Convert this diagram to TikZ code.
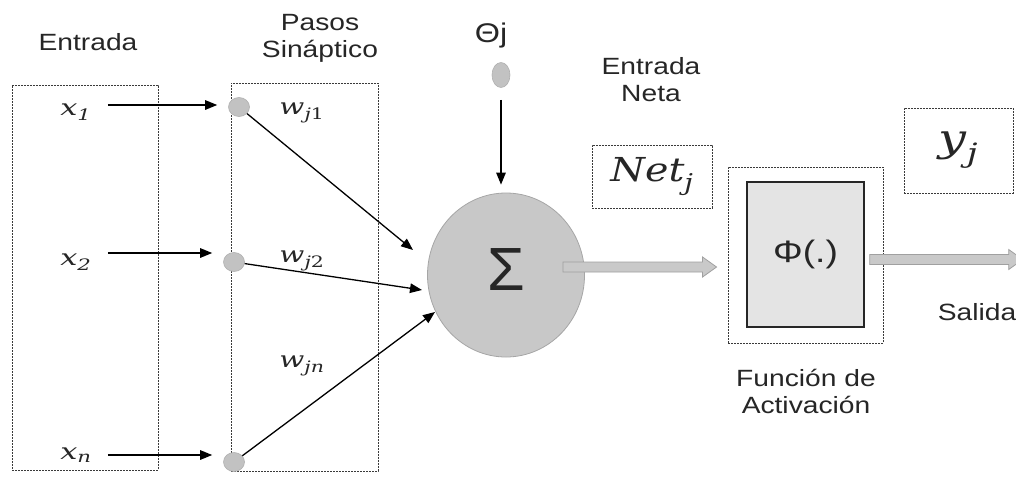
\documentclass[tikz,border=0pt]{standalone}
\usepackage{fontspec}
\newfontfamily\lab[FakeStretch=1.2]{Liberation Sans}
\newfontfamily\plainsans{Liberation Sans}
\newfontfamily\mserif{DejaVu Serif}
\usetikzlibrary{arrows.meta,shapes.geometric,calc}
\definecolor{txt}{HTML}{262626}
\definecolor{boxline}{HTML}{3A3A3A}
\definecolor{dotfill}{HTML}{C2C2C2}
\definecolor{dotline}{HTML}{B0B0B0}
\definecolor{sumfill}{HTML}{C8C8C8}
\definecolor{sumline}{HTML}{A6A6A6}
\definecolor{arrfill}{HTML}{C9C9C9}
\definecolor{arrline}{HTML}{A0A0A0}
\definecolor{actfill}{HTML}{E4E4E4}
% wide italic symbol with a subscript
\newcommand\symsub[3][1.35]{\scalebox{#1}[1]{\mserif\itshape #2\textsubscript{#3}}}
\begin{document}
\begin{tikzpicture}[x=1pt,y=-1pt,
 lbl/.style={font=\lab\fontsize{23.5}{27}\selectfont, text=txt, align=center, inner sep=0pt},
 mth/.style={font=\fontsize{22.5}{25}\selectfont, text=txt, inner sep=0pt},
 dbox/.style={draw=boxline, line width=0.9pt, dash pattern=on 1.6pt off 1.4pt, rectangle, inner sep=0pt},
 syn/.style={ellipse, fill=dotfill, draw=dotline, line width=0.6pt, minimum width=21pt, minimum height=19pt, inner sep=0pt},
 arr/.style={draw=black, line width=1.3pt, -{Triangle[length=12pt,width=9.5pt]}},
 garrow/.style={fill=arrfill, draw=arrline, line width=0.8pt},
]
\useasboundingbox (0,0) rectangle (1016,482);
\clip (0,0) rectangle (1016,482);
\fill[white] (0,0) rectangle (1016,482);

% input and synapse boxes
\node[dbox, minimum width=146pt, minimum height=385pt] (inbox) at (85,277.5) {};
\node[dbox, minimum width=147pt, minimum height=388pt] (synbox) at (304.5,277) {};
\node[lbl, anchor=base] (tin) at (88,50) {Entrada};
\node[lbl] (tsyn) at (320,38) {Pasos\\Sináptico};

% inputs
\node[mth] (x1) at (76,112) {\symsub{x}{1}};
\node[mth] (x2) at (76,262) {\symsub{x}{2}};
\node[mth] (xn) at (76,455) {\symsub{x}{n}};

% synapse dots
\node[syn] (d1) at (239,107) {};
\node[syn] (d2) at (234,262) {};
\node[syn] (dn) at (234,462) {};

\draw[arr] ($(x1.east)+(16,-7)$) -- ($(x1.east -| d1.west)+(-11,-7)$);
\draw[arr] ($(x2.east)+(16,-9)$) -- ($(x2.east -| d2.west)+(-11,-9)$);
\draw[arr] ($(xn.east)+(16,0)$) -- ($(xn.east -| dn.west)+(-11,0)$);

% weights
\node[mth] (w1) at (302,113) {\symsub[1.3]{w}{j\upshape 1}};
\node[mth] (w2) at (302,261) {\symsub[1.3]{w}{j\upshape 2}};
\node[mth] (wn) at (302,366) {\symsub[1.3]{w}{jn}};

% summation
\node[ellipse, fill=sumfill, draw=sumline, line width=0.8pt, minimum width=157pt, minimum height=164pt, inner sep=0pt, text=txt, font=\plainsans\fontsize{61}{61}\selectfont, text depth=10pt] (sum) at (506,275) {Σ};

\coordinate (t1) at (413,250);
\coordinate (t2) at (422,290);
\coordinate (tn) at (435,312);
\draw[arr] (d1) -- (t1);
\draw[arr] (d2) -- (t2);
\draw[arr] (dn) -- (tn);

% bias
\node[lbl, font=\lab\fontsize{27}{30}\selectfont, anchor=base] (theta) at (491,42) {Θj};
\node[syn, minimum width=18pt, minimum height=25pt] (thd) at (501,75) {};
\draw[arr, shorten <=12pt, shorten >=8pt] (thd.south) -- (thd.south |- sum.north);

% net input
\node[lbl] (tnet) at (651,80) {Entrada\\Neta};
\node[dbox, minimum width=120pt, minimum height=63pt, text=txt, font=\fontsize{33}{36}\selectfont] (netbox) at (652,176.5) {\symsub[1.2]{Net}{j}};

% activation
\node[dbox, minimum width=155pt, minimum height=176pt] (actout) at (805.5,255) {};
\node[rectangle, draw=black!85, line width=1.4pt, fill=actfill, minimum width=117pt, minimum height=145pt, inner sep=0pt, text=txt, font=\lab\fontsize{31}{33}\selectfont] (actin) at (805.5,254.5) {Φ(.)};
\node[lbl] (tfun) at (806,391) {Función de\\Activación};

% gray arrows
\coordinate (g1s) at ($(sum.east)+(-22,-8)$);
\coordinate (g1e) at ($(actout.west)+(-11,12)$);
\path[garrow] let \p1=(g1s), \p2=(g1e) in
  (\x1,\y1+5pt) -- (\x2-14pt,\y1+5pt) -- (\x2-14pt,\y1+10pt) -- (\x2,\y1)
  -- (\x2-14pt,\y1-10pt) -- (\x2-14pt,\y1-5pt) -- (\x1,\y1-5pt) -- cycle;
\coordinate (g2s) at ($(actin.east)+(5,5)$);
\coordinate (g2e) at ($(g2s)+(153,0)$);
\path[garrow] let \p1=(g2s), \p2=(g2e) in
  (\x1,\y1+5pt) -- (\x2-14pt,\y1+5pt) -- (\x2-14pt,\y1+10pt) -- (\x2,\y1)
  -- (\x2-14pt,\y1-10pt) -- (\x2-14pt,\y1-5pt) -- (\x1,\y1-5pt) -- cycle;

% output
\node[dbox, minimum width=109pt, minimum height=85pt, text=txt, font=\fontsize{38}{40}\selectfont] (ybox) at (958.5,150.5) {\symsub[1.3]{y}{j}};
\node[lbl, anchor=base] (tsal) at (977,320) {Salida};
\end{tikzpicture}
\end{document}
